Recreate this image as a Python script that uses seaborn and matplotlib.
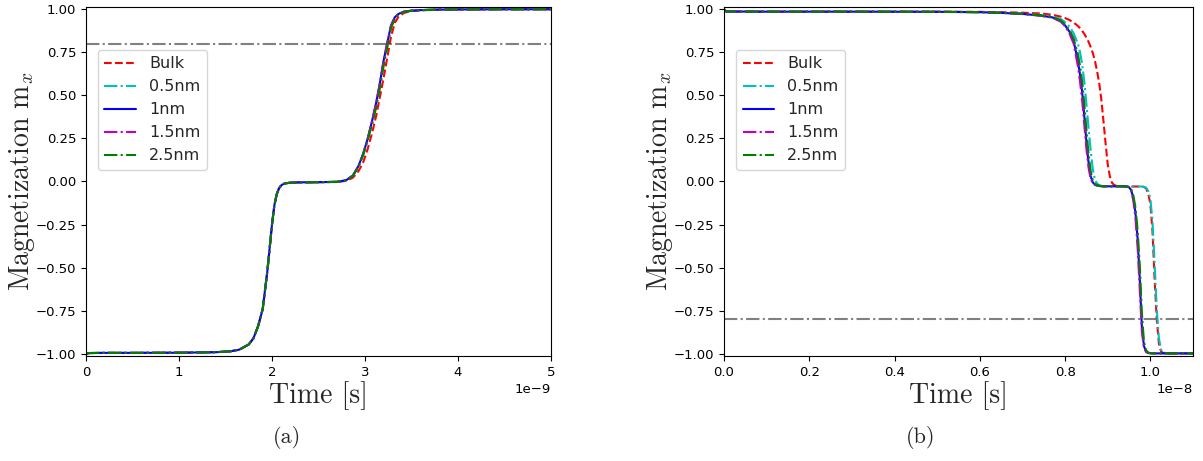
import numpy as np
import pandas as pd
import matplotlib
matplotlib.use("Agg")
import matplotlib.pyplot as plt
import seaborn as sns

# ---- (a) switching from -x to +x, time in units of 1e-9 s ----
time_a = [0, 0.03, 0.2, 0.5, 1.0, 1.4, 1.55, 1.65, 1.75, 1.8, 1.85, 1.9, 1.95, 2.0,
          2.025, 2.05, 2.075, 2.1, 2.125, 2.15, 2.2, 2.3, 2.5,
          2.7, 2.8, 2.87, 2.93, 2.98, 3.03, 3.08, 3.12, 3.16, 3.2, 3.24, 3.28, 3.32,
          3.36, 3.42, 3.5, 3.6, 3.8, 4.0, 4.5, 5.0]

# first step (-1 -> 0) is shared by all thicknesses
first_step_a = [-1.0, -0.995, -0.994, -0.994, -0.993, -0.99, -0.985, -0.975, -0.945,
                -0.91, -0.84, -0.74, -0.52, -0.25, -0.14, -0.075, -0.04, -0.022,
                -0.014, -0.01, -0.007, -0.005, -0.004]

bulk_a = first_step_a + [-0.003, 0.004, 0.022, 0.06, 0.11, 0.19, 0.29, 0.38, 0.49,
                         0.60, 0.72, 0.84, 0.92, 0.955, 0.978, 0.988, 0.993, 0.997,
                         0.998, 0.999, 0.999]
nm05_a = first_step_a + [-0.002, 0.007, 0.032, 0.085, 0.15, 0.24, 0.345, 0.44, 0.55,
                         0.68, 0.79, 0.895, 0.948, 0.97, 0.984, 0.99, 0.994, 0.997,
                         0.998, 0.999, 0.999]
nm1_a = first_step_a + [-0.002, 0.008, 0.035, 0.09, 0.16, 0.25, 0.36, 0.456, 0.57,
                        0.70, 0.805, 0.905, 0.952, 0.972, 0.985, 0.991, 0.994, 0.997,
                        0.998, 0.999, 0.999]
nm15_a = first_step_a + [-0.002, 0.008, 0.035, 0.09, 0.16, 0.25, 0.36, 0.456, 0.57,
                         0.70, 0.805, 0.905, 0.952, 0.972, 0.985, 0.991, 0.994, 0.997,
                         0.998, 0.999, 0.999]
nm25_a = first_step_a + [-0.002, 0.007, 0.033, 0.086, 0.155, 0.245, 0.34, 0.43, 0.54,
                         0.67, 0.78, 0.89, 0.945, 0.968, 0.984, 0.99, 0.994, 0.997,
                         0.998, 0.999, 0.999]

# ---- (b) switching from +x to -x, time in units of 1e-8 s ----
time_b = [0, 0.005, 0.1, 0.3, 0.5, 0.6, 0.65, 0.7, 0.74, 0.77, 0.79, 0.80, 0.81, 0.82,
          0.83, 0.835, 0.84, 0.845, 0.85, 0.855, 0.86, 0.865, 0.87, 0.875, 0.88, 0.885,
          0.89, 0.895, 0.90, 0.905, 0.91, 0.915, 0.92, 0.94, 0.95, 0.955, 0.96, 0.965,
          0.97, 0.975, 0.98, 0.985, 0.99, 0.995, 1.0, 1.005, 1.01, 1.015, 1.02, 1.025,
          1.03, 1.04, 1.1]

bulk_b = [1.0, 0.986, 0.985, 0.985, 0.985, 0.984, 0.982, 0.979, 0.975, 0.967, 0.956,
          0.948, 0.937, 0.922, 0.902, 0.889, 0.874, 0.856, 0.835, 0.81, 0.78, 0.745,
          0.70, 0.64, 0.57, 0.475, 0.35, 0.22, 0.10, 0.03, -0.008, -0.02, -0.025,
          -0.028, -0.029, -0.029, -0.029, -0.029, -0.029, -0.029, -0.029, -0.032,
          -0.04, -0.07, -0.13, -0.29, -0.57, -0.80, -0.94, -0.985, -0.995, -0.997, -0.997]
nm05_b = [1.0, 0.986, 0.985, 0.985, 0.984, 0.982, 0.979, 0.974, 0.966, 0.957, 0.942,
          0.925, 0.90, 0.86, 0.80, 0.75, 0.68, 0.58, 0.45, 0.31, 0.18, 0.07, 0.01,
          -0.012, -0.021, -0.025, -0.027, -0.028, -0.028, -0.028, -0.028, -0.028,
          -0.028, -0.028, -0.029, -0.029, -0.029, -0.029, -0.029, -0.029, -0.029,
          -0.031, -0.036, -0.055, -0.10, -0.23, -0.48, -0.74, -0.91, -0.975, -0.992,
          -0.996, -0.997]
nm1_b = [1.0, 0.986, 0.985, 0.985, 0.984, 0.982, 0.978, 0.972, 0.963, 0.952, 0.93,
         0.905, 0.87, 0.815, 0.70, 0.62, 0.52, 0.38, 0.23, 0.11, 0.03, -0.005, -0.018,
         -0.023, -0.026, -0.027, -0.028, -0.028, -0.028, -0.028, -0.028, -0.028,
         -0.028, -0.028, -0.033, -0.05, -0.095, -0.18, -0.33, -0.56, -0.84, -0.955,
         -0.985, -0.994, -0.996, -0.997, -0.997, -0.997, -0.997, -0.997, -0.997,
         -0.997, -0.997]
nm15_b = [1.0, 0.986, 0.985, 0.985, 0.984, 0.982, 0.978, 0.971, 0.962, 0.95, 0.927,
          0.90, 0.86, 0.80, 0.67, 0.58, 0.47, 0.33, 0.19, 0.08, 0.015, -0.01, -0.02,
          -0.024, -0.026, -0.027, -0.028, -0.028, -0.028, -0.028, -0.028, -0.028,
          -0.028, -0.028, -0.034, -0.055, -0.11, -0.21, -0.38, -0.62, -0.87, -0.965,
          -0.99, -0.995, -0.996, -0.997, -0.997, -0.997, -0.997, -0.997, -0.997,
          -0.997, -0.997]
nm25_b = [1.0, 0.986, 0.985, 0.985, 0.984, 0.982, 0.978, 0.973, 0.964, 0.954, 0.934,
          0.91, 0.88, 0.83, 0.74, 0.67, 0.58, 0.45, 0.30, 0.16, 0.06, 0.005, -0.014,
          -0.021, -0.025, -0.027, -0.028, -0.028, -0.028, -0.028, -0.028, -0.028,
          -0.028, -0.028, -0.032, -0.045, -0.08, -0.15, -0.28, -0.48, -0.76, -0.93,
          -0.98, -0.992, -0.996, -0.997, -0.997, -0.997, -0.997, -0.997, -0.997,
          -0.997, -0.997]

labels = ["Bulk", "0.5nm", "1nm", "1.5nm", "2.5nm"]
colors = ["r", "c", "b", "m", "g"]
styles = ["--", "-.", "-", "-.", "-."]
threshold_a = 0.8
threshold_b = -0.8
xticks_a = [0, 1, 2, 3, 4, 5]
xticks_b = [0.0, 0.2, 0.4, 0.6, 0.8, 1.0]

sns.set_style("ticks")
plt.rcParams.update({
    "font.family": ["DejaVu Sans"],
    "mathtext.fontset": "cm",
    "axes.edgecolor": "black",
    "axes.linewidth": 0.8,
    "xtick.color": "black",
    "ytick.color": "black",
    "xtick.major.size": 3.5,
    "ytick.major.size": 3.5,
    "xtick.labelsize": 9.5,
    "ytick.labelsize": 9.5,
    "legend.fontsize": 11.5,
})

fig = plt.figure(figsize=(12.03, 4.61), dpi=100)
ax_a = fig.add_axes([0.0715, 0.2278, 0.3865, 0.757])
ax_b = fig.add_axes([0.6018, 0.2278, 0.3899, 0.757])

label_font = dict(family="cmr10", size=20)


def draw_panel(ax, t, scale, series, thr, xmax, ticks, tag, xcenter):
    ax.axhline(thr, color="gray", linestyle="-.", linewidth=1.5, zorder=1)
    for vals, lab, col, ls in zip(series, labels, colors, styles):
        df = pd.DataFrame({"t": np.asarray(t) * scale, "m": vals})
        sns.lineplot(data=df, x="t", y="m", ax=ax, color=col, linestyle=ls,
                     linewidth=1.5, label=lab, sort=False, estimator=None)
    ax.set_xlim(0, xmax)
    ax.set_ylim(-1.012, 1.012)
    ax.set_xticks(np.asarray(ticks) * scale)
    ax.set_xlabel("Time [s]", fontdict=label_font, labelpad=2)
    ax.set_ylabel("Magnetization m$_x$", fontdict=label_font, labelpad=-1)
    for s in ax.spines.values():
        s.set_visible(True)
    leg = ax.legend(loc="upper left", bbox_to_anchor=(0.026, 0.877),
                    borderaxespad=0, frameon=True, handlelength=2.0)
    leg.get_frame().set_edgecolor("0.8")
    fig.text(xcenter, 0.052, tag, ha="center", va="center",
             family="cmr10", size=16)


draw_panel(ax_a, time_a, 1e-9, [bulk_a, nm05_a, nm1_a, nm15_a, nm25_a],
           threshold_a, 5e-9, xticks_a, "(a)", 0.2385)
draw_panel(ax_b, time_b, 1e-8, [bulk_b, nm05_b, nm1_b, nm15_b, nm25_b],
           threshold_b, 1.1e-8, xticks_b, "(b)", 0.765)

fig.savefig("out.png", dpi=100)
